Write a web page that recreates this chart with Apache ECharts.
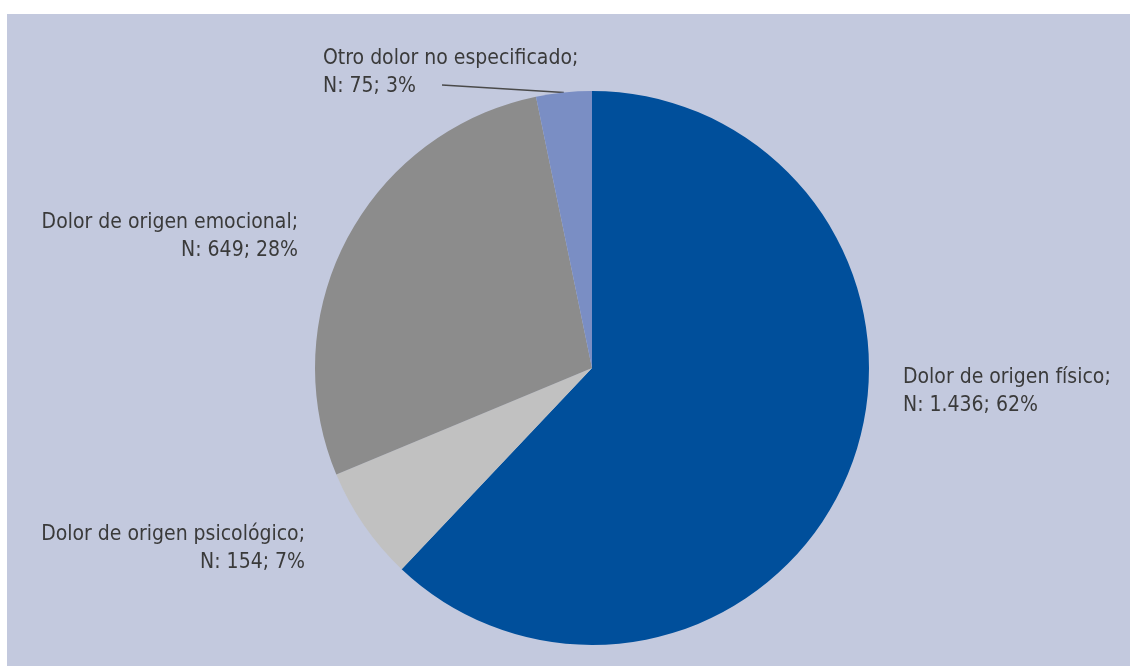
<!DOCTYPE html>
<html>
<head>
<meta charset="utf-8">
<script src="https://cdn.jsdelivr.net/npm/echarts@6/dist/echarts.min.js"></script>
<style>
  html, body { margin: 0; padding: 0; background: #ffffff; width: 1130px; height: 666px; overflow: hidden; }
  #chart { position: absolute; left: 7px; top: 14px; width: 1123px; height: 652px; }
</style>
</head>
<body>
<div id="chart"></div>
<script>
// Data
const categories = [
  'Dolor de origen físico',
  'Dolor de origen psicológico',
  'Dolor de origen emocional',
  'Otro dolor no especificado'
];
const counts = [1436, 154, 649, 75];
const colors = ['#004f9b', '#c1c1c1', '#8c8c8c', '#7a8ec4'];

// Label placement (chart pixels) and alignment per slice
const labelPlacement = [
  { x: 896, y: 378, align: 'left' },
  { x: 298, y: 535, align: 'right' },
  { x: 291, y: 223, align: 'right' },
  { x: 316, y: 59, align: 'left' }
];

function fmtN(v) {
  return String(v).replace(/\B(?=(\d{3})+(?!\d))/g, '.');
}

const chart = echarts.init(document.getElementById('chart'), null, { renderer: 'canvas' });
chart.setOption({
  backgroundColor: '#c3c9de',
  animation: false,
  series: [{
    type: 'pie',
    center: [585, 354],
    radius: [0, 277],
    startAngle: 90,
    clockwise: true,
    percentPrecision: 0,
    avoidLabelOverlap: false,
    data: categories.map((c, i) => ({
      name: c,
      value: counts[i],
      itemStyle: { color: colors[i] },
      labelLine: { show: i === 3 }
    })),
    itemStyle: { borderWidth: 0 },
    label: {
      show: true,
      position: 'outside',
      color: '#3a3a3a',
      fontFamily: '"Liberation Sans Narrow", "DejaVu Sans Condensed", sans-serif',
      fontSize: 21,
      lineHeight: 28,
      formatter: p => p.name + ';\nN: ' + fmtN(p.value) + '; ' + p.percent + '%'
    },
    labelLine: {
      show: false,
      length: 0,
      length2: 0,
      lineStyle: { color: '#4a4a4a', width: 1.5 }
    },
    labelLayout: function (params) {
      const lp = labelPlacement[params.dataIndex];
      const res = { x: lp.x, y: lp.y, align: lp.align, verticalAlign: 'middle' };
      if (params.dataIndex === 3 && params.labelLinePoints) {
        res.labelLinePoints = [params.labelLinePoints[0], [lp.x + 119, lp.y + 12]];
      }
      return res;
    }
  }]
});
</script>
</body>
</html>
